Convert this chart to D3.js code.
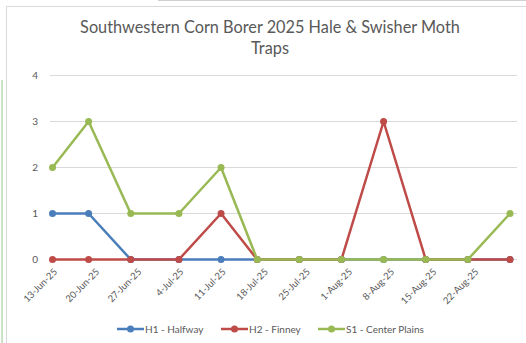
<!DOCTYPE html>
<html><head><meta charset="utf-8">
<script src="https://cdn.jsdelivr.net/npm/d3@7"></script>
<style>html,body{margin:0;padding:0;background:#fff;}svg{display:block;}</style>
</head><body>
<svg id="c" width="526" height="343"></svg>
<script>
const title = ["Southwestern Corn Borer 2025 Hale & Swisher Moth", "Traps"];
const dates = ["2025-06-13","2025-06-19","2025-06-26","2025-07-04","2025-07-11","2025-07-17","2025-07-24","2025-07-31","2025-08-07","2025-08-14","2025-08-21","2025-08-28"];
const tickDates = ["2025-06-13","2025-06-20","2025-06-27","2025-07-04","2025-07-11","2025-07-18","2025-07-25","2025-08-01","2025-08-08","2025-08-15","2025-08-22"];
const yTicks = [0,1,2,3,4];
const seriesNames = ["H1 - Halfway","H2 - Finney","S1 - Center Plains"];
const h1 = [1,1,0,0,0,0,0,0,0,0,0,0];
const h2 = [0,0,0,0,1,0,0,0,3,0,0,0];
const s1 = [2,3,1,1,2,0,0,0,0,0,0,1];
const colors = ["#4A7EBB","#BE4B48","#98B954"];

const svg = d3.select("#c");
const parse = d3.utcParse("%Y-%m-%d");
const fmt = d3.utcFormat("%-d-%b-%y");
const D = dates.map(parse);
const x = d3.scaleUtc().domain([D[0], D[D.length-1]]).range([52.5, 510]);
const y = d3.scaleLinear().domain([0,4]).range([259.5, 75.5]);

// outer frames
svg.append("line").attr("x1",158).attr("x2",526).attr("y1",0.5).attr("y2",0.5).attr("stroke","#d0d0d0");
svg.append("line").attr("x1",2).attr("x2",2).attr("y1",80).attr("y2",343).attr("stroke","#b7dbb0").attr("stroke-width",1.5);
svg.append("rect").attr("x",6.5).attr("y",6.5).attr("width",530).attr("height",350).attr("fill","#fff").attr("stroke","#d9d9d9");

// title
svg.selectAll("text.title").data(title).join("text").attr("class","title")
  .attr("x",270).attr("y",(d,i)=>33+i*21).attr("text-anchor","middle")
  .attr("font-family","Lato, 'Open Sans', sans-serif").attr("font-size",16.3).attr("fill","#595959").text(d=>d);

// gridlines
svg.append("g").selectAll("line").data(yTicks).join("line")
  .attr("x1",50).attr("x2",517).attr("y1",d=>y(d)).attr("y2",d=>y(d))
  .attr("stroke","#d9d9d9").attr("stroke-width",1);

// y labels
svg.append("g").selectAll("text").data(yTicks).join("text")
  .attr("x",38).attr("y",d=>y(d)).attr("dy","0.35em").attr("text-anchor","end")
  .attr("font-family","Lato, 'Open Sans', sans-serif").attr("font-size",10).attr("fill","#595959").text(d=>d);

// x labels
svg.append("g").selectAll("text").data(tickDates.map(parse)).join("text")
  .attr("transform",d=>`translate(${x(d)+3},${270}) rotate(-45)`)
  .attr("text-anchor","end").attr("dy","0.35em")
  .attr("font-family","Lato, 'Open Sans', sans-serif").attr("font-size",9.5).attr("fill","#595959").text(d=>fmt(d));

// series
const series = [h1,h2,s1];
const line = d3.line().x((d,i)=>x(D[i])).y(d=>y(d));
series.forEach((vals,k)=>{
  const g = svg.append("g");
  g.append("path").attr("d",line(vals)).attr("fill","none").attr("stroke",colors[k])
    .attr("stroke-width",2.5).attr("stroke-linejoin","round");
  g.selectAll("circle").data(vals).join("circle")
    .attr("cx",(d,i)=>x(D[i])).attr("cy",d=>y(d)).attr("r",3.5).attr("fill",colors[k]);
});

// legend
const legX = [117,221,318];
const lg = svg.append("g");
seriesNames.forEach((n,k)=>{
  const gx = legX[k], gy = 329;
  lg.append("line").attr("x1",gx).attr("x2",gx+27).attr("y1",gy).attr("y2",gy).attr("stroke",colors[k]).attr("stroke-width",2.5);
  lg.append("circle").attr("cx",gx+13.5).attr("cy",gy).attr("r",3.5).attr("fill",colors[k]);
  lg.append("text").attr("x",gx+28).attr("y",gy).attr("dy","0.35em")
    .attr("font-family","Lato, 'Open Sans', sans-serif").attr("font-size",10).attr("fill","#595959").text(n);
});
</script>
</body></html>
